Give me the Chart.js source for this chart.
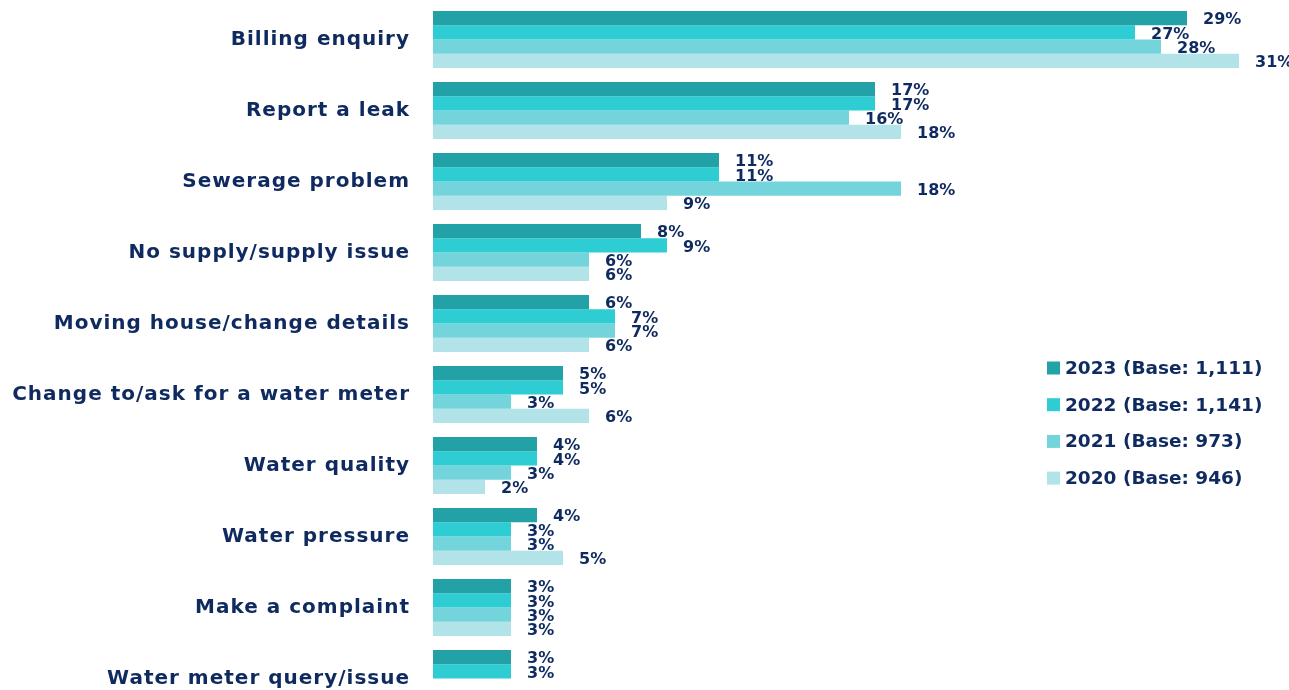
<!DOCTYPE html>
<html lang="en">
<head>
  <meta charset="UTF-8" />
  <title>Reasons for contact</title>
  <script src="https://cdn.jsdelivr.net/npm/chart.js"></script>
  <style>
    html, body {
      margin: 0;
      background: #ffffff;
      overflow: hidden;
    }
    .chart-wrap {
      position: relative;
      width: 1289px;
      height: 716px;
    }
  </style>
</head>
<body>
  <div class="chart-wrap">
    <canvas id="contactChart"></canvas>
  </div>

  <script>
    // Contact reasons and share of contacts per survey year (%)
    const categories = [
      'Billing enquiry',
      'Report a leak',
      'Sewerage problem',
      'No supply/supply issue',
      'Moving house/change details',
      'Change to/ask for a water meter',
      'Water quality',
      'Water pressure',
      'Make a complaint',
      'Water meter query/issue'
    ];
    const years = ['2023 (Base: 1,111)', '2022 (Base: 1,141)', '2021 (Base: 973)', '2020 (Base: 946)'];
    const values2023 = [29, 17, 11, 8, 6, 5, 4, 4, 3, 3];
    const values2022 = [27, 17, 11, 9, 7, 5, 4, 3, 3, 3];
    const values2021 = [28, 16, 18, 6, 7, 3, 3, 3, 3, null];
    const values2020 = [31, 18, 9, 6, 6, 6, 2, 5, 3, null];
    const colours = ['#22a1a7', '#2ecdd3', '#73d4db', '#b1e3e8'];

    const navy = '#0f2a5f';
    const fontFamily = "'DejaVu Sans', sans-serif";

    // wider tracking for the category names
    const tickSpacing = {
      id: 'tickSpacing',
      beforeDraw(chart) { chart.ctx.letterSpacing = '1px'; },
      beforeDatasetsDraw(chart) { chart.ctx.letterSpacing = '0px'; }
    };

    // value labels just past the end of each bar
    const barLabels = {
      id: 'barLabels',
      afterDatasetsDraw(chart) {
        const ctx = chart.ctx;
        ctx.save();
        ctx.font = `bold 16px ${fontFamily}`;
        ctx.fillStyle = navy;
        ctx.textAlign = 'left';
        ctx.textBaseline = 'middle';
        chart.data.datasets.forEach((ds, i) => {
          chart.getDatasetMeta(i).data.forEach((bar, j) => {
            const v = ds.data[j];
            if (v == null) return;
            ctx.fillText(v + '%', bar.x + 16, bar.y + 2);
          });
        });
        ctx.restore();
      }
    };

    // legend block sitting inside the plot on the right
    const sideLegend = {
      id: 'sideLegend',
      afterDraw(chart) {
        const ctx = chart.ctx;
        const x = 1047, y0 = 368, step = 36.7;
        ctx.save();
        ctx.font = `bold 18.5px ${fontFamily}`;
        ctx.textBaseline = 'middle';
        chart.data.datasets.forEach((ds, i) => {
          const y = y0 + i * step;
          ctx.fillStyle = ds.backgroundColor;
          ctx.fillRect(x, y - 6.5, 13, 13);
          ctx.fillStyle = navy;
          ctx.fillText(ds.label, x + 18, y + 1);
        });
        ctx.restore();
      }
    };

    const seriesValues = [values2023, values2022, values2021, values2020];

    new Chart(document.getElementById('contactChart'), {
      type: 'bar',
      data: {
        labels: categories,
        datasets: years.map((label, i) => ({
          label: label,
          data: seriesValues[i],
          backgroundColor: colours[i],
          borderWidth: 0,
          categoryPercentage: 0.8,
          barPercentage: 1.0
        }))
      },
      options: {
        indexAxis: 'y',
        responsive: true,
        maintainAspectRatio: false,
        animation: false,
        layout: { padding: { top: 4, bottom: 2, right: 24 } },
        plugins: {
          legend: { display: false },
          tooltip: { enabled: false }
        },
        scales: {
          x: {
            display: false,
            min: 0,
            max: 32
          },
          y: {
            grid: { display: false, drawTicks: false },
            border: { display: false },
            ticks: {
              color: navy,
              padding: 23,
              font: { family: fontFamily, size: 20, weight: 'bold' }
            },
            afterFit(scale) {
              scale.width = 433;
              scale.paddingTop = 0;
              scale.paddingBottom = 0;
            }
          }
        }
      },
      plugins: [tickSpacing, barLabels, sideLegend]
    });
  </script>
</body>
</html>
